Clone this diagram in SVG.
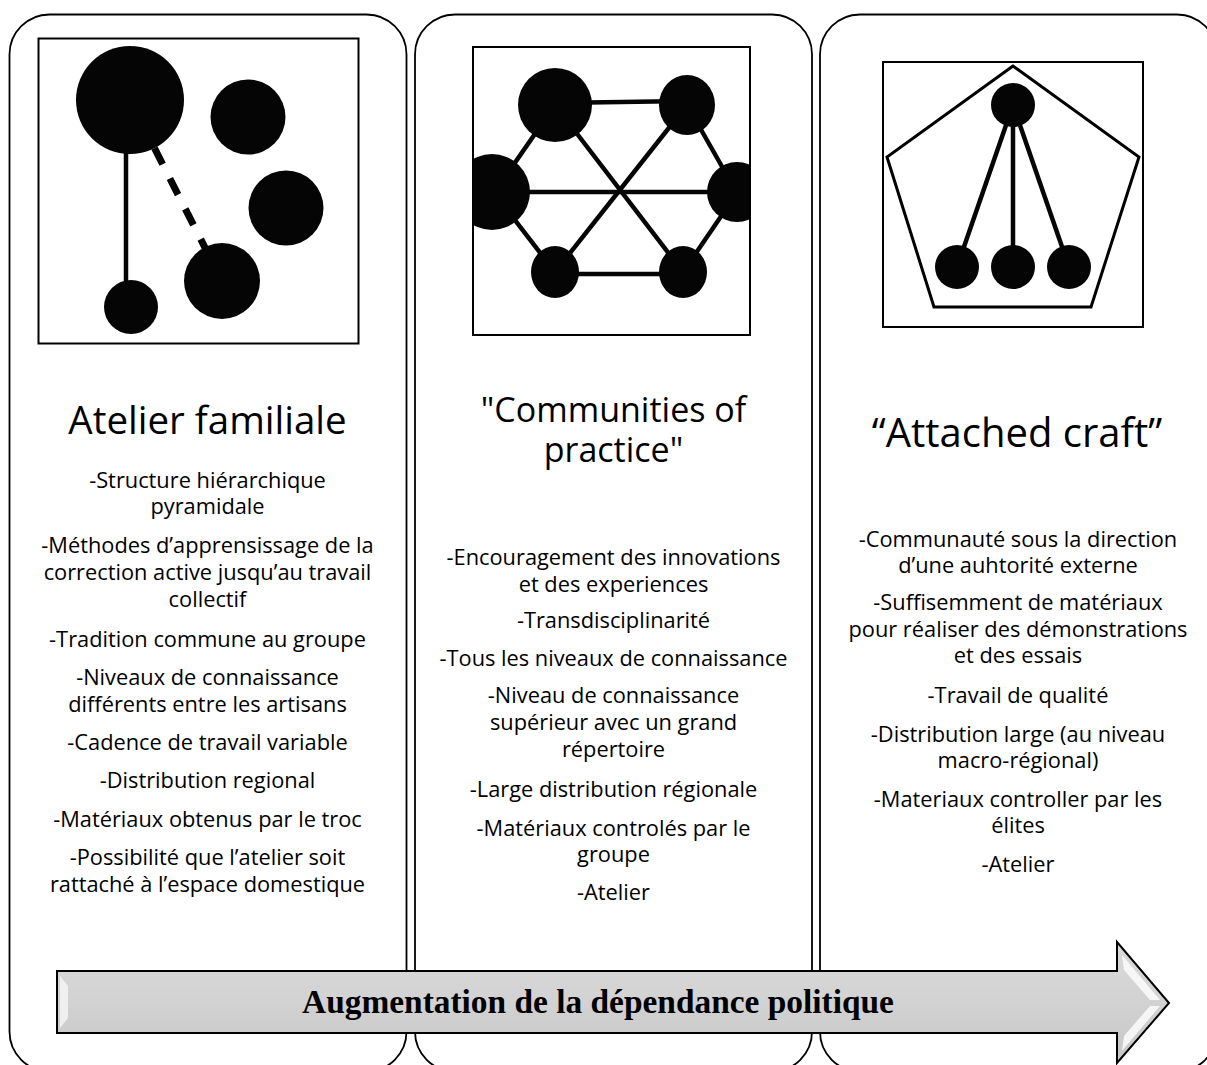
<svg xmlns="http://www.w3.org/2000/svg" width="1207" height="1065" viewBox="0 0 1207 1065">
  <style>
    .panel { fill: #ffffff; stroke: #000000; stroke-width: 1.8; }
    .frame { fill: #ffffff; stroke: #000000; stroke-width: 2; }
    .dot { fill: #050505; }
    .link { stroke: #050505; stroke-width: 4.5; stroke-linecap: butt; fill: none; }
    .title { font-family: "Open Sans", Lato, "Liberation Sans", sans-serif; font-size: 38.5px; fill: #000; text-anchor: middle; }
    .body { font-family: "Open Sans", Lato, "Liberation Sans", sans-serif; font-size: 21.8px; fill: #000; text-anchor: middle; }
    .arrow-label { font-family: "Liberation Serif", "Times New Roman", serif; font-weight: bold; font-size: 33.4px; fill: #000; text-anchor: middle; }
  </style>
  <defs>
    <linearGradient id="arrowFill" x1="0" y1="0" x2="0" y2="1">
      <stop offset="0" stop-color="#dadada"/>
      <stop offset="0.5" stop-color="#d2d2d2"/>
      <stop offset="1" stop-color="#c6c6c6"/>
    </linearGradient>
    <clipPath id="hexClip"><rect x="474" y="48" width="275" height="286"/></clipPath>
  </defs>

  <rect width="1207" height="1065" fill="#ffffff"/>

  <!-- Panel 1: family workshop -->
  <g id="panel-atelier">
    <rect class="panel" x="9.5" y="14.5" width="397" height="1057" rx="40" ry="40"/>
    <rect class="frame" x="38.5" y="38.5" width="320" height="305"/>
    <line class="link" x1="126" y1="140" x2="126" y2="290"/>
    <line x1="154.5" y1="148.2" x2="207" y2="251.6" stroke="#050505" stroke-width="7" stroke-dasharray="18 16"/>
    <circle class="dot" cx="130" cy="100" r="54"/>
    <circle class="dot" cx="248" cy="117" r="37.5"/>
    <circle class="dot" cx="286" cy="208" r="37.5"/>
    <circle class="dot" cx="222" cy="281" r="38"/>
    <circle class="dot" cx="131" cy="307" r="27"/>
    <text class="title" x="207.5" y="434">Atelier familiale</text>
    <text class="body" x="207.5" y="488">-Structure hiérarchique</text>
    <text class="body" x="207.5" y="514">pyramidale</text>
    <text class="body" x="207.5" y="553">-Méthodes d’apprensissage de la</text>
    <text class="body" x="207.5" y="580">correction active jusqu’au travail</text>
    <text class="body" x="207.5" y="607">collectif</text>
    <text class="body" x="207.5" y="647">-Tradition commune au groupe</text>
    <text class="body" x="207.5" y="685">-Niveaux de connaissance</text>
    <text class="body" x="207.5" y="712">différents entre les artisans</text>
    <text class="body" x="207.5" y="750">-Cadence de travail variable</text>
    <text class="body" x="207.5" y="788">-Distribution regional</text>
    <text class="body" x="207.5" y="827">-Matériaux obtenus par le troc</text>
    <text class="body" x="207.5" y="865">-Possibilité que l’atelier soit</text>
    <text class="body" x="207.5" y="892">rattaché à l’espace domestique</text>
  </g>

  <!-- Panel 2: communities of practice -->
  <g id="panel-communities">
    <rect class="panel" x="415" y="14.5" width="397" height="1057" rx="40" ry="40"/>
    <rect class="frame" x="473" y="47" width="277" height="288"/>
    <g clip-path="url(#hexClip)">
      <line class="link" x1="555" y1="103" x2="687" y2="101"/>
      <line class="link" x1="555" y1="274" x2="683" y2="274"/>
      <line class="link" x1="494" y1="192" x2="737" y2="192"/>
      <line class="link" x1="555" y1="105" x2="683" y2="272"/>
      <line class="link" x1="687" y1="105" x2="555" y2="272"/>
      <line class="link" x1="555" y1="105" x2="494" y2="193"/>
      <line class="link" x1="494" y1="193" x2="555" y2="272"/>
      <line class="link" x1="687" y1="105" x2="737" y2="193"/>
      <line class="link" x1="737" y1="193" x2="683" y2="272"/>
      <circle class="dot" cx="555" cy="105" r="37"/>
      <ellipse class="dot" cx="687" cy="105" rx="28" ry="30"/>
      <circle class="dot" cx="492" cy="192" r="38"/>
      <circle class="dot" cx="737" cy="192" r="30"/>
      <ellipse class="dot" cx="555" cy="272" rx="24" ry="26"/>
      <ellipse class="dot" cx="683" cy="272" rx="24" ry="26"/>
    </g>
    <text class="title" x="613.5" y="422" style="font-size:34px">"Communities of</text>
    <text class="title" x="613.5" y="462" style="font-size:34px">practice"</text>
    <text class="body" x="613.5" y="565">-Encouragement des innovations</text>
    <text class="body" x="613.5" y="592">et des experiences</text>
    <text class="body" x="613.5" y="628">-Transdisciplinarité</text>
    <text class="body" x="613.5" y="666">-Tous les niveaux de connaissance</text>
    <text class="body" x="613.5" y="703">-Niveau de connaissance</text>
    <text class="body" x="613.5" y="730">supérieur avec un grand</text>
    <text class="body" x="613.5" y="757">répertoire</text>
    <text class="body" x="613.5" y="797">-Large distribution régionale</text>
    <text class="body" x="613.5" y="836">-Matériaux controlés par le</text>
    <text class="body" x="613.5" y="862">groupe</text>
    <text class="body" x="613.5" y="900">-Atelier</text>
  </g>

  <!-- Panel 3: attached craft -->
  <g id="panel-attached">
    <rect class="panel" x="820" y="14.5" width="397" height="1057" rx="40" ry="40"/>
    <rect class="frame" x="883" y="62" width="260" height="265"/>
    <polygon points="1013,66 887,157 934,307 1091,307 1139,157" fill="none" stroke="#000" stroke-width="3"/>
    <line class="link" x1="1013" y1="105" x2="957" y2="267"/>
    <line class="link" x1="1013" y1="105" x2="1013" y2="267"/>
    <line class="link" x1="1013" y1="105" x2="1069" y2="267"/>
    <circle class="dot" cx="1013" cy="105" r="22"/>
    <circle class="dot" cx="957" cy="267" r="22"/>
    <circle class="dot" cx="1013" cy="267" r="22"/>
    <circle class="dot" cx="1069" cy="267" r="22"/>
    <text class="title" x="1017" y="447" style="font-size:40px">“Attached craft”</text>
    <text class="body" x="1018" y="547">-Communauté sous la direction</text>
    <text class="body" x="1018" y="573">d’une auhtorité externe</text>
    <text class="body" x="1018" y="610">-Suffisemment de matériaux</text>
    <text class="body" x="1018" y="637">pour réaliser des démonstrations</text>
    <text class="body" x="1018" y="663">et des essais</text>
    <text class="body" x="1018" y="703">-Travail de qualité</text>
    <text class="body" x="1018" y="742">-Distribution large (au niveau</text>
    <text class="body" x="1018" y="768">macro-régional)</text>
    <text class="body" x="1018" y="807">-Materiaux controller par les</text>
    <text class="body" x="1018" y="833">élites</text>
    <text class="body" x="1018" y="872">-Atelier</text>
  </g>

  <!-- Direction arrow across the three panels -->
  <g id="arrow">
    <polygon points="57,971 1117,971 1117,942 1169,1003 1117,1063 1117,1033 57,1033" fill="url(#arrowFill)" stroke="#000" stroke-width="2" stroke-linejoin="miter"/>
    <path d="M60,976 L68,986 L68,1018 L60,1028 Z" fill="#f4f4f4" opacity="0.85"/>
    <path d="M1122,955 L1160,1000 L1150,1000 L1124,970 Z" fill="#ffffff" opacity="0.8"/>
    <path d="M1124,1036 L1150,1006 L1160,1006 L1122,1051 Z" fill="#ffffff" opacity="0.8"/>
    <text class="arrow-label" x="598" y="1013">Augmentation de la dépendance politique</text>
  </g>
</svg>
